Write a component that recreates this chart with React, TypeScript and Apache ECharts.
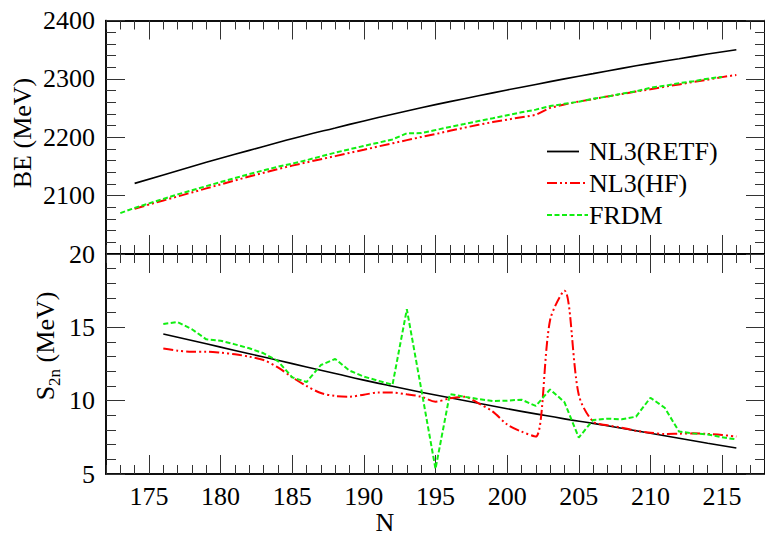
import React, { useEffect, useRef } from "react";
import * as echarts from "echarts";

// ---------- data ----------
// Top panel: binding energy BE (MeV)
const retfBeN = [174, 176, 178, 180, 182, 184, 186, 188, 190, 192, 194, 196, 198, 200, 202, 204, 206, 208, 210, 212, 214, 216];
const retfBe = [2121, 2135.5, 2150, 2164, 2177.5, 2191, 2204, 2216, 2228, 2239.5, 2250.5, 2261, 2271, 2281, 2290.5, 2300, 2309, 2318, 2326.5, 2334.5, 2342.5, 2350];

const hfBeStartN = 174;
const hfBe = [
  2077.6, 2084.7, 2091.7, 2098.6, 2105.5, 2112.4, 2119.2, 2126.1, 2132.7, 2139.3,
  2145.5, 2151.4, 2157.0, 2162.4, 2167.7, 2173.2, 2178.6, 2184.2, 2189.6, 2195.1,
  2200.4, 2205.5, 2211.0, 2216.3, 2221.3, 2226.0, 2230.2, 2234.3, 2238.3, 2250.3,
  2256.2, 2261.2, 2265.3, 2270.0, 2273.9, 2278.4, 2282.2, 2286.6, 2290.4, 2294.9,
  2298.6, 2303.0, 2306.7,
];

const frdmBeStartN = 173;
const frdmBe = [
  2070.0, 2079.0, 2086.7, 2094.2, 2102.1, 2109.1, 2116.3, 2123.2, 2130.1, 2136.8,
  2143.3, 2149.5, 2154.9, 2160.7, 2167.3, 2173.6, 2179.4, 2185.2, 2190.7, 2196.3,
  2206.9, 2207.1, 2212.3, 2217.6, 2222.6, 2227.7, 2232.6, 2237.7, 2242.7, 2247.3,
  2253.4, 2257.2, 2260.9, 2265.9, 2269.7, 2274.6, 2278.6, 2284.8, 2288.1, 2292.7,
  2295.9, 2300.4, 2303.4,
];

// Bottom panel: two-neutron separation energy S2n (MeV)
const retfS2nN = [176, 178, 180, 182, 184, 186, 188, 190, 192, 194, 196, 198, 200, 202, 204, 206, 208, 210, 212, 214, 216];
const retfS2n = [14.55, 14.1, 13.65, 13.2, 12.75, 12.3, 11.85, 11.4, 10.98, 10.58, 10.2, 9.82, 9.45, 9.1, 8.76, 8.45, 8.12, 7.78, 7.44, 7.1, 6.77];

const hfS2nStartN = 176;
const hfS2n = [
  13.55, 13.41, 13.34, 13.34, 13.27, 13.16, 13.0, 12.77, 12.27, 11.59,
  11.0, 10.52, 10.32, 10.27, 10.41, 10.55, 10.55, 10.43, 10.27, 9.93,
  10.16, 10.27, 9.82, 9.25, 8.38, 7.89, 7.55, 15.5, 17.5, 10.4,
  8.57, 8.32, 8.16, 7.95, 7.82, 7.73, 7.75, 7.77, 7.73, 7.66,
  7.55,
];

const frdmS2nStartN = 176;
const frdmS2n = [
  15.23, 15.36, 14.87, 14.18, 14.09, 13.84, 13.57, 13.23, 12.7, 11.59,
  11.27, 12.43, 12.84, 12.05, 11.64, 11.36, 11.09, 16.23, 10.82, 5.35,
  10.45, 10.27, 10.11, 9.98, 10.0, 10.07, 9.64, 10.77, 9.9, 7.48,
  8.68, 8.77, 8.73, 8.91, 10.2, 9.52, 7.89, 7.77, 7.7, 7.5,
  7.36,
];

// axis ticks
const xMajorTicks = [175, 180, 185, 190, 195, 200, 205, 210, 215];
const xMinorTicks = Array.from({ length: 47 }, (_, i) => 172 + i);
const beMajorTicks = [2000, 2100, 2200, 2300, 2400];
const beLabels = [2100, 2200, 2300, 2400];
const beMinorTicks = Array.from({ length: 21 }, (_, i) => 2000 + 20 * i);
const s2nMajorTicks = [5, 10, 15, 20];
const s2nLabels = [5, 10, 15, 20];
const s2nMinorTicks = Array.from({ length: 16 }, (_, i) => 5 + i);

const legendNames = ["NL3(RETF)", "NL3(HF)", "FRDM"];

const FONT = "'Liberation Serif', 'Times New Roman', Times, serif";
const RED_DASH = [10, 3, 2, 3, 2, 3];
const GREEN_DASH = [5, 2.5];

const pairs = (xs: number[], ys: number[]) => ys.map((v, i) => [xs[i], v]);
const pairsFrom = (start: number, ys: number[]) => ys.map((v, i) => [start + i, v]);
const plain = (v: number) => String(v);

function xAxisDef(grid: number, position: string, len: number, ticks: number[], labels?: number[]) {
  return {
    type: "value",
    gridIndex: grid,
    position,
    min: 172,
    max: 218,
    axisLine: { show: true, onZero: false, lineStyle: { color: "#000", width: 1.5 } },
    axisTick: { show: true, inside: true, length: len, customValues: ticks, lineStyle: { color: "#333", width: 1 } },
    axisLabel: labels
      ? { show: true, customValues: labels, formatter: plain, margin: 9, color: "#000", fontSize: 26, fontFamily: FONT }
      : { show: false },
    splitLine: { show: false },
  };
}

function yAxisDef(grid: number, position: string, min: number, max: number, len: number, ticks: number[], labels?: number[]) {
  return {
    type: "value",
    gridIndex: grid,
    position,
    min,
    max,
    axisLine: { show: true, onZero: false, lineStyle: { color: "#000", width: 1.5 } },
    axisTick: { show: true, inside: true, length: len, customValues: ticks, lineStyle: { color: "#333", width: 1 } },
    axisLabel: labels
      ? { show: true, customValues: labels, formatter: plain, margin: 11, color: "#000", fontSize: 26, fontFamily: FONT }
      : { show: false },
    splitLine: { show: false },
  };
}

export default function App() {
  const ref = useRef<HTMLDivElement>(null);

  useEffect(() => {
    if (!ref.current) return;
    const chart = echarts.init(ref.current, null, { renderer: "svg" });

    const txt = (text: string, x: number, y: number, align: string, extra: any = {}) => ({
      type: "text", x, y, ...extra,
      style: { text, fontSize: 26, fontFamily: FONT, fill: "#000", align, verticalAlign: "middle" },
    });

    const option = {
      animation: false,
      backgroundColor: "#fff",
      textStyle: { fontFamily: FONT },
      grid: [
        { left: 106, top: 20.5, width: 664, height: 233.5 },
        { left: 106, top: 254, width: 664, height: 220 },
      ],
      xAxis: [
        xAxisDef(0, "bottom", 19, xMajorTicks),
        xAxisDef(0, "bottom", 9, xMinorTicks),
        xAxisDef(0, "top", 19, xMajorTicks),
        xAxisDef(0, "top", 9, xMinorTicks),
        xAxisDef(1, "bottom", 19, xMajorTicks, xMajorTicks),
        xAxisDef(1, "bottom", 9, xMinorTicks),
        xAxisDef(1, "top", 19, xMajorTicks),
        xAxisDef(1, "top", 9, xMinorTicks),
      ],
      yAxis: [
        yAxisDef(0, "left", 2000, 2400, 19, beMajorTicks, beLabels),
        yAxisDef(0, "left", 2000, 2400, 10, beMinorTicks),
        yAxisDef(0, "right", 2000, 2400, 19, beMajorTicks),
        yAxisDef(0, "right", 2000, 2400, 10, beMinorTicks),
        yAxisDef(1, "left", 5, 20, 19, s2nMajorTicks, s2nLabels),
        yAxisDef(1, "left", 5, 20, 10, s2nMinorTicks),
        yAxisDef(1, "right", 5, 20, 19, s2nMajorTicks),
        yAxisDef(1, "right", 5, 20, 10, s2nMinorTicks),
      ],
      series: [
        {
          name: legendNames[0], type: "line", xAxisIndex: 0, yAxisIndex: 0,
          data: pairs(retfBeN, retfBe), symbol: "none", smooth: true,
          lineStyle: { color: "#000", width: 1.6, type: "solid" },
        },
        {
          name: legendNames[1], type: "line", xAxisIndex: 0, yAxisIndex: 0,
          data: pairsFrom(hfBeStartN, hfBe), symbol: "none",
          lineStyle: { color: "#ff0000", width: 2, type: RED_DASH },
        },
        {
          name: legendNames[2], type: "line", xAxisIndex: 0, yAxisIndex: 0,
          data: pairsFrom(frdmBeStartN, frdmBe), symbol: "none",
          lineStyle: { color: "#11ee11", width: 2, type: GREEN_DASH },
        },
        {
          name: legendNames[0], type: "line", xAxisIndex: 4, yAxisIndex: 4,
          data: pairs(retfS2nN, retfS2n), symbol: "none", smooth: true,
          lineStyle: { color: "#000", width: 1.6, type: "solid" },
        },
        {
          name: legendNames[1], type: "line", xAxisIndex: 4, yAxisIndex: 4,
          data: pairsFrom(hfS2nStartN, hfS2n), symbol: "none", smooth: 0.3,
          lineStyle: { color: "#ff0000", width: 2, type: RED_DASH },
        },
        {
          name: legendNames[2], type: "line", xAxisIndex: 4, yAxisIndex: 4,
          data: pairsFrom(frdmS2nStartN, frdmS2n), symbol: "none",
          lineStyle: { color: "#11ee11", width: 2, type: GREEN_DASH },
        },
      ],
      graphic: [
        // legend
        { type: "line", shape: { x1: 547, y1: 151.5, x2: 579, y2: 151.5 }, style: { stroke: "#000", lineWidth: 1.8 } },
        { type: "line", shape: { x1: 547, y1: 183, x2: 586, y2: 183 }, style: { stroke: "#ff0000", lineWidth: 2, lineDash: RED_DASH } },
        { type: "line", shape: { x1: 547, y1: 215, x2: 588, y2: 215 }, style: { stroke: "#11ee11", lineWidth: 2, lineDash: GREEN_DASH } },
        txt(legendNames[0], 589, 151.5, "left"),
        txt(legendNames[1], 589, 183, "left"),
        txt(legendNames[2], 589, 215, "left"),
        // axis titles
        txt("BE (MeV)", 22, 133, "center", { rotation: Math.PI / 2 }),
        {
          type: "text", x: 47, y: 346, rotation: Math.PI / 2,
          style: {
            text: "{a|S}{b|2n}{a| (MeV)}",
            fill: "#000", align: "center", verticalAlign: "middle", fontFamily: FONT,
            rich: {
              a: { fontSize: 26, fontFamily: FONT, fill: "#000", lineHeight: 30, verticalAlign: "top" },
              b: { fontSize: 17, fontFamily: FONT, fill: "#000", lineHeight: 17, padding: [14, 0, 0, 0], verticalAlign: "top" },
            },
          },
        },
        txt("N", 385, 522, "center"),
      ],
    };

    chart.setOption(option as any);
    return () => chart.dispose();
  }, []);

  return (
    <div
      ref={ref}
      style={{ position: "absolute", left: 0, top: 0, width: 765, height: 540, background: "#fff" }}
    />
  );
}
